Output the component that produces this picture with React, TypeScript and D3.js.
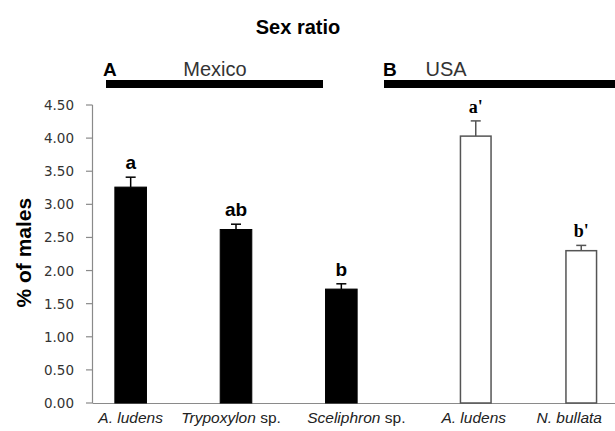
import React from "react";
import * as d3 from "d3";

const mexicoCats = ["A. ludens", "Trypoxylon", "Sceliphron"];
const mexicoSuffix = ["", " sp.", " sp."];
const mexicoValues = [3.26, 2.62, 1.72];
const mexicoErrors = [0.15, 0.08, 0.08];
const mexicoLetters = ["a", "ab", "b"];

const usaCats = ["A. ludens", "N. bullata"];
const usaValues = [4.03, 2.3];
const usaErrors = [0.23, 0.08];
const usaLetters = ["a'", "b'"];

const yTicks = [0, 0.5, 1, 1.5, 2, 2.5, 3, 3.5, 4, 4.5];

export default function App() {
  const W = 615, H = 431;
  const y = d3.scaleLinear().domain([0, 4.5]).range([403, 105]);
  const xM = d3.scaleBand().domain(mexicoCats).range([78, 394]).paddingInner(0.7).paddingOuter(0.35);
  const xU = d3.scaleBand().domain(usaCats).range([423, 634]).paddingInner(0.71).paddingOuter(0.355);
  const sans = "Arial, 'Liberation Sans', sans-serif";
  const axisCol = "#8a8a8a";

  const bar = (x: number, w: number, v: number, e: number, letter: string, filled: boolean, serif: boolean, key: string) => {
    const cx = x + w / 2;
    const col = filled ? "#000" : "#555";
    return (
      <g key={key}>
        <line x1={cx} x2={cx} y1={y(v)} y2={y(v + e)} stroke={col} strokeWidth={1.5} />
        <line x1={cx - 5} x2={cx + 5} y1={y(v + e)} y2={y(v + e)} stroke={col} strokeWidth={1.5} />
        <rect x={x} y={y(v)} width={w} height={y(0) - y(v)} fill={filled ? "#000" : "#fff"} stroke={col} strokeWidth={filled ? 1 : 1.5} />
        <text x={cx} y={y(v + e) - 8} textAnchor="middle" fontFamily={serif ? "'Liberation Serif', 'Times New Roman', serif" : sans} fontWeight="bold" fontSize={serif ? 18 : 19}>{letter}</text>
      </g>
    );
  };

  return (
    <svg width={W} height={H} style={{ position: "absolute", left: 0, top: 0, background: "#fff" }}>
      <text x={298} y={34} textAnchor="middle" fontFamily={sans} fontWeight="bold" fontSize={20}>Sex ratio</text>
      <text x={103} y={76} fontFamily={sans} fontWeight="bold" fontSize={19}>A</text>
      <text x={215} y={76} textAnchor="middle" fontFamily={sans} fontSize={20} fill="#333">Mexico</text>
      <rect x={106} y={80} width={217} height={8} fill="#000" />
      <text x={383} y={76} fontFamily={sans} fontWeight="bold" fontSize={19}>B</text>
      <text x={446} y={76} textAnchor="middle" fontFamily={sans} fontSize={20} fill="#333">USA</text>
      <rect x={384} y={80} width={240} height={8} fill="#000" />

      <line x1={92.5} x2={92.5} y1={y(4.5)} y2={y(0)} stroke={axisCol} strokeWidth={1.2} />
      <line x1={92.5} x2={W} y1={y(0) + 0.5} y2={y(0) + 0.5} stroke={axisCol} strokeWidth={1.2} />
      {yTicks.map((t) => (
        <g key={t}>
          <line x1={86} x2={92.5} y1={y(t)} y2={y(t)} stroke={axisCol} strokeWidth={1.2} />
          <text x={74} y={y(t) + 5} textAnchor="end" fontFamily="'DejaVu Sans', Verdana, sans-serif" fontSize={13.5} fill="#333">{t.toFixed(2)}</text>
        </g>
      ))}
      <text transform={`translate(31,${y(2.27)}) rotate(-90)`} textAnchor="middle" fontFamily={sans} fontWeight="bold" fontSize={21}>% of males</text>

      {mexicoCats.map((c, i) =>
        bar(xM(c)!, xM.bandwidth(), mexicoValues[i], mexicoErrors[i], mexicoLetters[i], true, false, "m" + i)
      )}
      {usaCats.map((c, i) =>
        bar(xU(c)!, xU.bandwidth(), usaValues[i], usaErrors[i], usaLetters[i], false, true, "u" + i)
      )}

      {mexicoCats.map((c, i) => (
        <text key={"ml" + i} x={xM(c)! + xM.bandwidth() / 2 + (i === 0 ? 0 : i === 1 ? -5 : 15)} y={423} textAnchor="middle" fontFamily={sans} fontSize={15.5} fill="#222">
          <tspan fontStyle="italic">{c}</tspan>{mexicoSuffix[i]}
        </text>
      ))}
      {usaCats.map((c, i) => (
        <text key={"ul" + i} x={xU(c)! + xU.bandwidth() / 2 + (i === 0 ? -2 : -12)} y={423} textAnchor="middle" fontFamily={sans} fontSize={15.5} fontStyle="italic" fill="#222">{c}</text>
      ))}
    </svg>
  );
}
